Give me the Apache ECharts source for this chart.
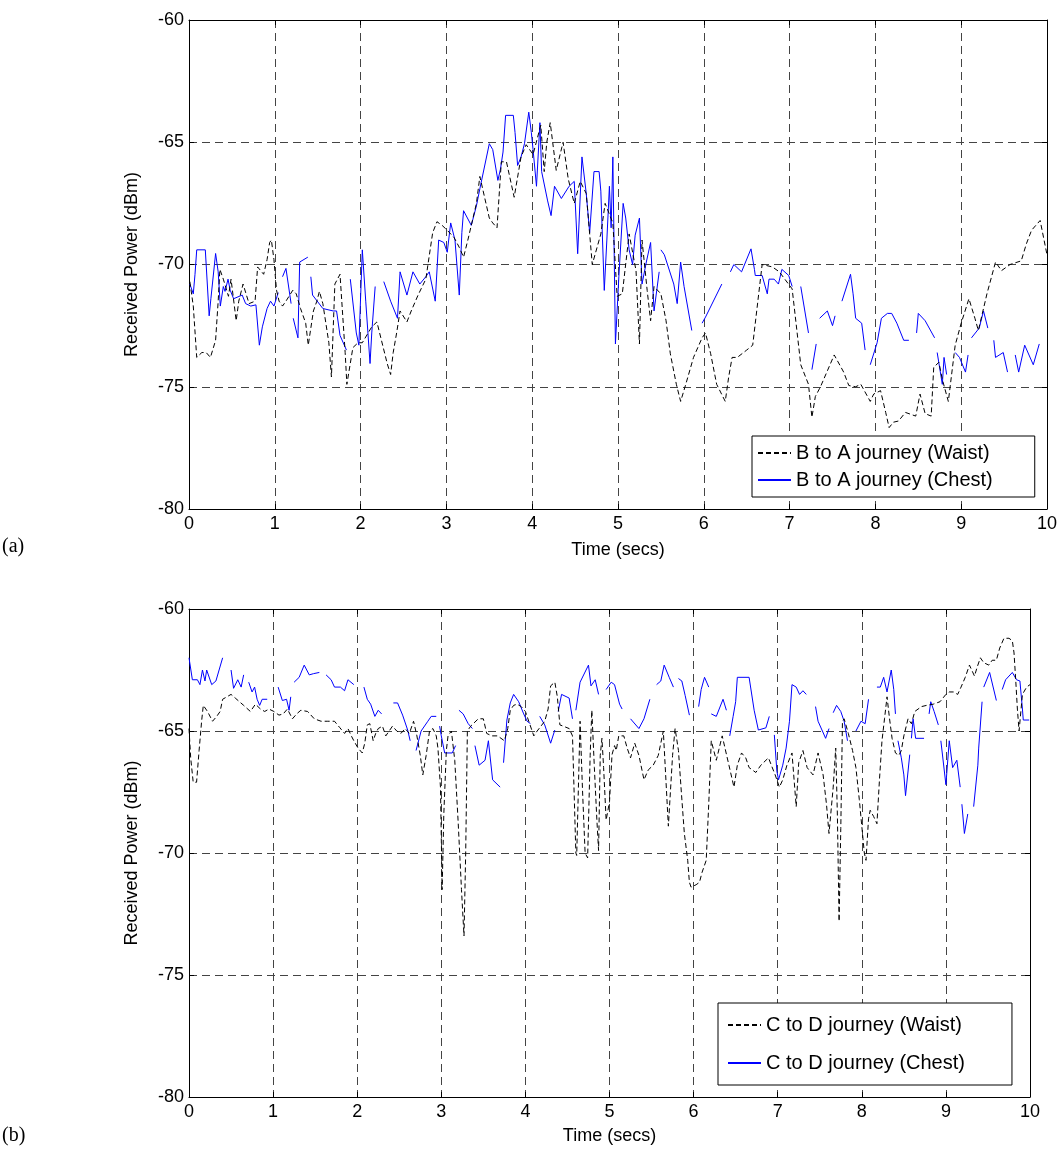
<!DOCTYPE html>
<html>
<head>
<meta charset="utf-8">
<script src="https://cdn.jsdelivr.net/npm/echarts@6/dist/echarts.min.js"></script>
<style>
  html, body { margin: 0; padding: 0; background: #fff; }
  #chart { width: 1063px; height: 1157px; }
</style>
</head>
<body>
<div id="chart"></div>
<script>
// Received power traces, [time in s, power in dBm]; null marks a dropout (line break)
const waistBA = [[0.01,-70.7],[0.05,-71.7],[0.09,-73.8],[0.15,-73.6],[0.2,-73.6],[0.25,-73.8],[0.31,-73.1],[0.34,-71.5],[0.36,-70.2],[0.4,-70.6],[0.46,-71.3],[0.49,-70.6],[0.55,-72.3],[0.58,-71.5],[0.63,-70.8],[0.7,-71.6],[0.77,-71.5],[0.8,-70.1],[0.87,-70.4],[0.91,-69.8],[0.94,-69.1],[0.96,-69.0],[0.99,-69.8],[1.02,-71.05],[1.05,-71.5],[1.09,-71.7],[1.13,-71.5],[1.21,-71.05],[1.25,-71.2],[1.3,-71.8],[1.36,-72.4],[1.39,-73.3],[1.45,-71.9],[1.49,-71.5],[1.52,-71.1],[1.56,-71.6],[1.63,-73.2],[1.66,-74.6],[1.7,-70.8],[1.76,-70.4],[1.82,-73.6],[1.84,-74.9],[1.91,-73.4],[1.97,-73.2],[2.02,-73.2],[2.13,-72.55],[2.19,-72.35],[2.31,-74.05],[2.35,-74.5],[2.38,-73.6],[2.42,-72.8],[2.46,-71.9],[2.54,-72.35],[2.59,-71.9],[2.67,-71.25],[2.76,-70.6],[2.84,-68.7],[2.89,-68.25],[2.95,-68.4],[3.01,-68.6],[3.09,-68.9],[3.15,-69.3],[3.2,-69.7],[3.25,-69.0],[3.35,-67.5],[3.39,-66.4],[3.5,-68.1],[3.54,-68.3],[3.59,-68.5],[3.64,-65.8],[3.7,-65.8],[3.79,-67.25],[3.87,-65.6],[3.93,-65.1],[4.01,-65.5],[4.1,-64.3],[4.14,-66.2],[4.17,-65.0],[4.21,-64.2],[4.28,-66.15],[4.36,-65.0],[4.42,-66.5],[4.49,-67.5],[4.56,-66.6],[4.63,-67.1],[4.7,-70.0],[4.8,-68.75],[4.85,-67.5],[4.94,-68.3],[4.99,-71.3],[5.05,-71.2],[5.13,-68.75],[5.21,-70.25],[5.25,-73.25],[5.28,-69.0],[5.34,-71.06],[5.38,-72.3],[5.42,-70.9],[5.5,-71.2],[5.56,-72.3],[5.61,-73.65],[5.68,-74.9],[5.73,-75.6],[5.79,-74.9],[5.88,-73.8],[5.98,-73.0],[6.02,-72.8],[6.08,-73.65],[6.15,-74.9],[6.25,-75.6],[6.29,-74.6],[6.33,-73.8],[6.39,-73.8],[6.5,-73.5],[6.57,-73.3],[6.68,-70.0],[6.8,-70.1],[6.88,-70.3],[7.03,-71.0],[7.13,-74.1],[7.22,-74.9],[7.26,-76.25],[7.3,-75.4],[7.36,-75.0],[7.52,-73.7],[7.63,-74.4],[7.69,-74.95],[7.77,-75.0],[7.83,-74.9],[7.94,-75.6],[7.98,-75.3],[8.06,-75.16],[8.12,-76.05],[8.16,-76.67],[8.21,-76.45],[8.27,-76.4],[8.35,-76.05],[8.47,-76.2],[8.52,-75.3],[8.58,-76.1],[8.65,-76.2],[8.68,-74.2],[8.74,-74.0],[8.78,-74.7],[8.85,-75.6],[8.93,-73.3],[9.0,-72.4],[9.09,-71.4],[9.16,-72.2],[9.2,-72.7],[9.3,-71.2],[9.4,-69.9],[9.47,-70.25],[9.57,-70.0],[9.7,-69.85],[9.76,-69.15],[9.82,-68.6],[9.92,-68.2],[10.0,-69.6]];

const chestBA = [[0.01,-70.8],[0.05,-71.2],[0.07,-70.4],[0.09,-69.4],[0.19,-69.4],[0.2,-70.0],[0.235,-72.1],[0.255,-71.4],[0.31,-69.55],[0.34,-70.3],[0.365,-71.7],[0.4,-70.9],[0.42,-71.1],[0.455,-70.6],[0.48,-71.05],[0.52,-71.4],[0.62,-71.25],[0.66,-71.6],[0.72,-71.7],[0.78,-71.65],[0.82,-73.3],[0.855,-72.55],[0.91,-71.8],[0.95,-71.5],[0.99,-71.7],[1.04,-71.15],[1.06,null],[1.09,-70.5],[1.13,-70.16],[1.19,-71.6],[1.2,null],[1.215,-72.2],[1.27,-73.0],[1.29,-69.9],[1.385,-69.7],[1.4,null],[1.42,-70.5],[1.44,-71.25],[1.56,-71.8],[1.68,-71.9],[1.72,-71.9],[1.76,-72.9],[1.835,-73.5],[1.85,null],[1.88,-70.6],[1.95,-72.8],[1.98,-73.3],[2.02,-69.4],[2.06,-71.5],[2.11,-74.05],[2.13,-72.8],[2.17,-70.9],[2.2,null],[2.27,-70.7],[2.35,-71.5],[2.43,-72.2],[2.46,-70.3],[2.54,-71.25],[2.61,-70.3],[2.69,-70.8],[2.76,-70.5],[2.8,-70.3],[2.87,-71.5],[2.91,-69.0],[2.97,-69.1],[3.01,-69.5],[3.05,-68.3],[3.1,-69.0],[3.15,-71.25],[3.18,-68.7],[3.2,-67.8],[3.29,-68.4],[3.35,-67.6],[3.39,-66.9],[3.5,-65.06],[3.54,-65.3],[3.6,-66.56],[3.63,-66.1],[3.66,-65.4],[3.69,-63.9],[3.78,-63.9],[3.8,-64.6],[3.83,-65.95],[3.87,-65.6],[3.91,-65.06],[3.96,-63.77],[3.99,-64.6],[4.01,-65.3],[4.05,-66.8],[4.09,-64.2],[4.11,-66.2],[4.18,-67.4],[4.22,-68.0],[4.26,-66.8],[4.34,-67.3],[4.43,-66.8],[4.49,-66.6],[4.53,-69.56],[4.58,-65.6],[4.63,-67.1],[4.67,-68.7],[4.72,-66.2],[4.78,-66.2],[4.8,-67.0],[4.84,-71.06],[4.87,-69.0],[4.9,-66.8],[4.92,-68.5],[4.94,-65.6],[4.97,-73.25],[5.01,-70.5],[5.06,-67.5],[5.09,-68.1],[5.13,-69.4],[5.17,-70.0],[5.2,-68.8],[5.25,-68.1],[5.28,-70.8],[5.33,-69.9],[5.38,-69.1],[5.42,-71.9],[5.48,-70.3],[5.49,null],[5.5,-69.4],[5.54,-69.6],[5.65,-70.8],[5.69,-71.6],[5.73,-69.9],[5.77,-70.9],[5.86,-72.7],[5.9,null],[5.98,-72.4],[6.02,-72.15],[6.21,-70.8],[6.25,null],[6.31,-70.3],[6.35,-70.0],[6.44,-70.3],[6.55,-69.36],[6.59,-70.2],[6.6,-70.45],[6.68,-70.45],[6.74,-71.2],[6.76,-70.6],[6.82,-70.6],[6.87,-70.8],[6.91,-70.2],[6.99,-70.45],[7.03,-70.9],[7.08,null],[7.13,-70.9],[7.22,-72.8],[7.24,null],[7.26,-74.3],[7.31,-73.25],[7.33,null],[7.35,-72.2],[7.44,-71.9],[7.5,-72.5],[7.53,-72.1],[7.57,null],[7.61,-71.5],[7.71,-70.4],[7.74,-71.2],[7.77,-72.2],[7.84,-72.4],[7.88,-73.5],[7.91,null],[7.94,-74.1],[8.02,-73.2],[8.07,-72.2],[8.14,-72.0],[8.19,-72.0],[8.25,-72.4],[8.33,-73.1],[8.39,-73.1],[8.43,null],[8.48,-72.8],[8.5,-72.0],[8.58,-72.3],[8.69,-73.0],[8.7,null],[8.72,-73.6],[8.78,-74.9],[8.8,-73.8],[8.83,-74.5],[8.86,null],[8.93,-73.6],[8.98,-73.8],[9.05,-74.4],[9.08,-73.7],[9.1,null],[9.12,-73.0],[9.21,-72.6],[9.26,-71.9],[9.31,-72.6],[9.34,null],[9.38,-73.1],[9.4,-73.8],[9.49,-73.6],[9.54,-74.4],[9.58,null],[9.63,-73.7],[9.67,-74.4],[9.74,-73.3],[9.84,-74.1],[9.91,-73.25]];

const waistCD = [[0,-64.9],[0.02,-66.1],[0.05,-67.1],[0.09,-67.1],[0.12,-65.8],[0.15,-64.6],[0.17,-63.95],[0.22,-64.2],[0.28,-64.6],[0.33,-64.4],[0.37,-64.2],[0.4,-63.7],[0.45,-63.6],[0.5,-63.5],[0.55,-63.65],[0.6,-63.8],[0.65,-63.95],[0.73,-64.2],[0.79,-63.9],[0.85,-64.1],[0.9,-64.2],[0.95,-64.1],[1.01,-64.2],[1.07,-64.35],[1.12,-64.3],[1.17,-64.1],[1.23,-64.5],[1.28,-64.3],[1.33,-64.15],[1.41,-64.2],[1.49,-64.5],[1.57,-64.6],[1.65,-64.6],[1.73,-64.6],[1.79,-64.85],[1.85,-65.1],[1.89,-64.9],[1.93,-65.2],[1.96,-65.4],[2.01,-65.7],[2.06,-65.9],[2.09,-65.5],[2.12,-64.75],[2.15,-64.7],[2.19,-65.4],[2.22,-65.1],[2.25,-64.9],[2.3,-64.8],[2.34,-65.2],[2.38,-65.0],[2.42,-64.8],[2.47,-65.0],[2.52,-65.1],[2.57,-64.9],[2.62,-65.1],[2.67,-64.6],[2.71,-65.2],[2.75,-66.0],[2.78,-66.8],[2.82,-66.0],[2.86,-65.0],[2.9,-64.9],[2.94,-65.2],[2.96,-65.7],[2.99,-67.3],[3.01,-71.5],[3.03,-68.4],[3.06,-65.8],[3.08,-65.2],[3.12,-65.0],[3.16,-66.2],[3.2,-68.7],[3.24,-71.5],[3.27,-73.4],[3.29,-70.0],[3.31,-65.0],[3.35,-64.8],[3.44,-64.5],[3.5,-64.5],[3.54,-65.1],[3.6,-65.2],[3.67,-65.2],[3.75,-65.4],[3.79,-64.9],[3.82,-64.15],[3.86,-63.95],[3.9,-63.9],[3.95,-64.0],[4.0,-64.2],[4.04,-64.6],[4.1,-65.2],[4.14,-65.0],[4.23,-64.6],[4.27,-64.1],[4.3,-63.15],[4.35,-63.0],[4.38,-63.6],[4.41,-64.75],[4.45,-64.8],[4.52,-64.9],[4.56,-65.2],[4.6,-70.0],[4.61,-70.1],[4.65,-64.6],[4.68,-67.5],[4.71,-70.0],[4.74,-70.2],[4.77,-66.0],[4.79,-64.15],[4.82,-66.5],[4.85,-68.65],[4.87,-69.9],[4.89,-66.0],[4.91,-65.3],[4.93,-66.5],[4.96,-68.65],[5.0,-67.9],[5.03,-65.97],[5.06,-65.6],[5.08,-65.8],[5.11,-65.2],[5.17,-65.2],[5.21,-65.7],[5.25,-66.1],[5.3,-65.5],[5.35,-66.0],[5.41,-67.0],[5.46,-66.6],[5.52,-66.4],[5.58,-66.0],[5.64,-65.0],[5.7,-68.9],[5.75,-66.0],[5.78,-64.9],[5.82,-65.8],[5.85,-67.3],[5.89,-69.2],[5.93,-70.3],[5.95,-71.2],[5.97,-71.4],[6.03,-71.3],[6.07,-71.2],[6.1,-70.8],[6.15,-70.3],[6.18,-68.0],[6.21,-65.4],[6.27,-66.2],[6.34,-65.2],[6.42,-66.4],[6.48,-67.3],[6.52,-66.4],[6.57,-65.9],[6.62,-66.1],[6.66,-66.5],[6.7,-66.6],[6.74,-66.7],[6.8,-66.4],[6.89,-66.1],[6.97,-66.8],[7.02,-67.3],[7.06,-67.0],[7.11,-66.4],[7.17,-65.9],[7.22,-68.1],[7.25,-66.3],[7.3,-65.8],[7.35,-66.5],[7.42,-66.8],[7.48,-65.9],[7.54,-66.8],[7.58,-68.0],[7.61,-69.2],[7.66,-67.3],[7.69,-65.7],[7.71,-68.5],[7.73,-72.8],[7.75,-69.0],[7.77,-64.6],[7.79,-64.5],[7.84,-65.1],[7.89,-65.8],[7.93,-66.5],[7.97,-67.8],[8.0,-68.9],[8.03,-70.0],[8.05,-70.3],[8.08,-68.6],[8.1,-68.25],[8.14,-68.5],[8.18,-68.8],[8.21,-67.0],[8.24,-65.4],[8.27,-64.5],[8.3,-63.6],[8.33,-64.5],[8.36,-65.3],[8.4,-65.9],[8.44,-66.0],[8.47,-65.8],[8.5,-65.2],[8.55,-64.5],[8.59,-64.7],[8.63,-64.2],[8.71,-64.0],[8.77,-63.95],[8.85,-63.9],[8.93,-63.8],[9.0,-63.5],[9.04,-63.4],[9.09,-63.4],[9.14,-63.5],[9.18,-63.2],[9.23,-62.8],[9.28,-62.3],[9.34,-62.75],[9.37,-62.4],[9.41,-62.0],[9.45,-62.2],[9.51,-62.3],[9.55,-62.1],[9.6,-62.1],[9.64,-61.6],[9.69,-61.2],[9.75,-61.2],[9.79,-61.3],[9.81,-61.8],[9.83,-62.9],[9.85,-64.1],[9.87,-65.0],[9.91,-63.5],[9.96,-63.2],[10.0,-63.1]];

const chestCD = [[0,-62.0],[0.04,-62.9],[0.1,-62.9],[0.13,-63.1],[0.16,-62.5],[0.19,-62.95],[0.21,-62.5],[0.27,-63.1],[0.32,-62.95],[0.4,-62.0],[0.45,null],[0.5,-62.5],[0.53,-63.25],[0.58,-62.9],[0.62,-63.2],[0.65,-62.7],[0.68,null],[0.71,-63.0],[0.75,-63.4],[0.78,-63.2],[0.81,-63.7],[0.84,-63.95],[0.87,-63.7],[0.93,-63.7],[1.0,null],[1.06,-63.2],[1.11,-63.75],[1.16,-63.7],[1.19,-64.15],[1.21,-63.6],[1.23,null],[1.25,-63.0],[1.31,-62.8],[1.37,-62.3],[1.43,-62.7],[1.48,-62.65],[1.55,-62.6],[1.59,null],[1.63,-62.7],[1.69,-62.9],[1.73,-63.2],[1.8,-63.2],[1.85,-63.35],[1.89,-62.9],[1.96,-63.1],[2.02,null],[2.08,-63.2],[2.12,-63.7],[2.16,-63.9],[2.21,-64.4],[2.25,-64.15],[2.29,-64.3],[2.36,null],[2.43,-63.85],[2.48,-63.85],[2.54,-64.35],[2.6,-64.96],[2.63,-65.4],[2.66,null],[2.7,-65.8],[2.76,-65.0],[2.84,-64.6],[2.88,-64.4],[2.94,-64.4],[2.96,null],[2.98,-64.8],[3.0,-65.2],[3.04,-65.9],[3.13,-65.9],[3.17,-65.6],[3.19,null],[3.21,-64.15],[3.26,-64.3],[3.32,-64.7],[3.37,-64.9],[3.385,null],[3.4,-65.6],[3.45,-66.4],[3.52,-66.2],[3.56,-65.4],[3.61,-67.0],[3.7,-67.3],[3.72,null],[3.74,-66.3],[3.78,-64.55],[3.82,-63.85],[3.86,-63.5],[3.92,-63.8],[3.98,-64.3],[4.02,-64.6],[4.06,-64.7],[4.1,null],[4.17,-64.4],[4.23,-64.75],[4.3,-65.5],[4.35,-64.96],[4.37,null],[4.39,-64.2],[4.43,-63.5],[4.52,-63.65],[4.56,-64.5],[4.58,null],[4.6,-64.15],[4.65,-63.0],[4.75,-62.3],[4.78,-63.15],[4.83,-62.9],[4.87,-63.5],[4.9,null],[4.96,-63.3],[5.02,-63.0],[5.06,-63.1],[5.12,-63.9],[5.15,-64.1],[5.2,null],[5.25,-64.5],[5.35,-64.9],[5.41,-64.5],[5.48,-63.7],[5.52,null],[5.56,-63.1],[5.61,-62.95],[5.65,-62.3],[5.71,-62.8],[5.76,-63.2],[5.79,null],[5.82,-62.85],[5.86,-62.95],[5.9,-63.55],[5.95,-64.35],[6.0,null],[6.06,-64.0],[6.09,-63.3],[6.13,-62.8],[6.18,-63.2],[6.195,null],[6.21,-64.3],[6.27,-64.4],[6.35,-63.7],[6.39,-64.15],[6.41,null],[6.43,-65.2],[6.47,-64.4],[6.5,-63.8],[6.52,-62.8],[6.66,-62.8],[6.72,-64.15],[6.77,-64.96],[6.86,-64.87],[6.9,-64.4],[6.93,null],[6.96,-65.16],[6.99,-66.64],[7.01,-67.0],[7.06,-66.4],[7.1,-65.7],[7.14,-64.6],[7.17,-63.1],[7.22,-63.2],[7.26,-63.5],[7.3,-63.35],[7.34,-63.5],[7.4,null],[7.45,-64.0],[7.48,-64.6],[7.57,-65.3],[7.61,-64.9],[7.63,null],[7.66,-64.25],[7.7,-63.95],[7.75,-64.2],[7.79,-64.6],[7.83,-65.4],[7.88,null],[7.93,-65.0],[7.99,-64.6],[8.04,-64.7],[8.08,-63.7],[8.13,null],[8.18,-63.2],[8.22,-63.2],[8.26,-62.8],[8.3,-63.4],[8.35,-62.5],[8.38,-63.3],[8.4,-64.3],[8.415,null],[8.43,-65.4],[8.47,-66.1],[8.5,-66.8],[8.52,-67.65],[8.57,-65.97],[8.58,null],[8.59,-65.3],[8.61,-64.5],[8.64,-65.3],[8.74,-65.3],[8.77,null],[8.8,-64.3],[8.82,-63.8],[8.86,-64.2],[8.91,-64.75],[8.925,null],[8.94,-65.4],[9.0,-67.2],[9.04,-65.4],[9.08,-66.5],[9.13,-66.2],[9.17,-67.3],[9.18,null],[9.19,-68.0],[9.22,-69.2],[9.26,-68.4],[9.3,null],[9.33,-68.1],[9.38,-66.4],[9.39,-65.7],[9.43,-63.8],[9.44,null],[9.45,-63.2],[9.52,-62.6],[9.6,-63.75],[9.63,null],[9.67,-63.3],[9.71,-62.9],[9.79,-62.6],[9.84,-62.9],[9.88,-62.95],[9.91,-64.1],[9.92,-64.55],[9.99,-64.55]];

const timeRange = [0, 10];
const powerRange = [-80, -60];
const seriesNames = [
  ['B to A journey (Waist)', 'B to A journey (Chest)'],
  ['C to D journey (Waist)', 'C to D journey (Chest)']
];
const panelTags = ['(a)', '(b)'];
const xTitle = 'Time (secs)';
const yTitle = 'Received Power (dBm)';

const FONT = '"Liberation Sans", Arial, Helvetica, sans-serif';
const toLine = pts => pts.map(p => [p[0], p[1] === null ? '-' : p[1]]);

const grids = [
  { left: 189, top: 20, width: 858, height: 489 },
  { left: 189, top: 609, width: 841, height: 488 }
];

const gridLine = { show: true, lineStyle: { color: '#444', width: 1, type: [8, 5] } };
const tick = { show: true, inside: true, length: 5, lineStyle: { color: '#000' } };
const label = { color: '#000', fontSize: 18, fontFamily: FONT };

const xAxes = [], yAxes = [];
[0, 1].forEach(g => {
  xAxes.push({
    type: 'value', gridIndex: g, min: timeRange[0], max: timeRange[1], interval: 1,
    name: xTitle, nameLocation: 'middle', nameGap: g === 0 ? 32 : 30,
    nameTextStyle: { color: '#000', fontSize: 18, fontFamily: FONT },
    axisLine: { show: true, onZero: false, lineStyle: { color: '#000', width: 1 } },
    axisTick: tick, axisLabel: Object.assign({ margin: 6 }, label),
    splitLine: gridLine
  });
  xAxes.push({
    type: 'value', gridIndex: g, position: 'top', min: timeRange[0], max: timeRange[1], interval: 1,
    axisLine: { show: true, onZero: false, lineStyle: { color: '#000', width: 1 } },
    axisTick: tick, axisLabel: { show: false }, splitLine: { show: false }
  });
  yAxes.push({
    type: 'value', gridIndex: g, min: powerRange[0], max: powerRange[1], interval: 5,
    name: yTitle, nameLocation: 'middle', nameGap: 48, nameRotate: 90,
    nameTextStyle: { color: '#000', fontSize: 18, fontFamily: FONT },
    axisLine: { show: true, onZero: false, lineStyle: { color: '#000', width: 1 } },
    axisTick: tick, axisLabel: Object.assign({ margin: 5 }, label),
    splitLine: gridLine
  });
  yAxes.push({
    type: 'value', gridIndex: g, position: 'right', min: powerRange[0], max: powerRange[1], interval: 5,
    axisLine: { show: true, onZero: false, lineStyle: { color: '#000', width: 1 } },
    axisTick: tick, axisLabel: { show: false }, splitLine: { show: false }
  });
});

const waistStyle = { color: '#000', width: 1, type: [5, 3] };
const chestStyle = { color: '#0000ff', width: 1, type: 'solid' };
const traces = [[waistBA, chestBA], [waistCD, chestCD]];
const series = [];
traces.forEach((pair, g) => {
  pair.forEach((pts, k) => {
    series.push({
      type: 'line', name: seriesNames[g][k],
      xAxisIndex: g * 2, yAxisIndex: g * 2,
      data: toLine(pts), symbol: 'none', showSymbol: false,
      connectNulls: false, silent: true, z: k === 0 ? 3 : 2,
      color: k === 0 ? '#000' : '#0000ff',
      lineStyle: k === 0 ? waistStyle : chestStyle
    });
  });
});

// Legend keys show the line sample only (no marker)
const legendBase = {
  orient: 'vertical', selectedMode: false,
  itemWidth: 33, itemHeight: 14,
  itemStyle: { opacity: 0, borderWidth: 0 },
  backgroundColor: '#fff', borderColor: '#000', borderWidth: 1, z: 10,
  textStyle: { color: '#000', fontSize: 20, fontFamily: FONT }
};
const legends = [
  Object.assign({}, legendBase, {
    data: seriesNames[0], left: 752, top: 436, itemGap: 7, padding: [7, 42, 7, 5]
  }),
  Object.assign({}, legendBase, {
    data: seriesNames[1], left: 718, top: 1003, itemGap: 18, padding: [12, 47, 12, 9]
  })
];

const chart = echarts.init(document.getElementById('chart'), null, { renderer: 'canvas' });
chart.setOption({
  animation: false,
  backgroundColor: '#fff',
  grid: grids.map(g => Object.assign({ show: false, containLabel: false }, g)),
  xAxis: xAxes,
  yAxis: yAxes,
  legend: legends,
  series: series,
  graphic: [
    { type: 'text', left: 2, top: 537, style: { text: panelTags[0], fill: '#000', font: '20px "Liberation Serif", "Times New Roman", serif' } },
    { type: 'text', left: 2, top: 1126, style: { text: panelTags[1], fill: '#000', font: '20px "Liberation Serif", "Times New Roman", serif' } }
  ]
});
</script>
</body>
</html>
